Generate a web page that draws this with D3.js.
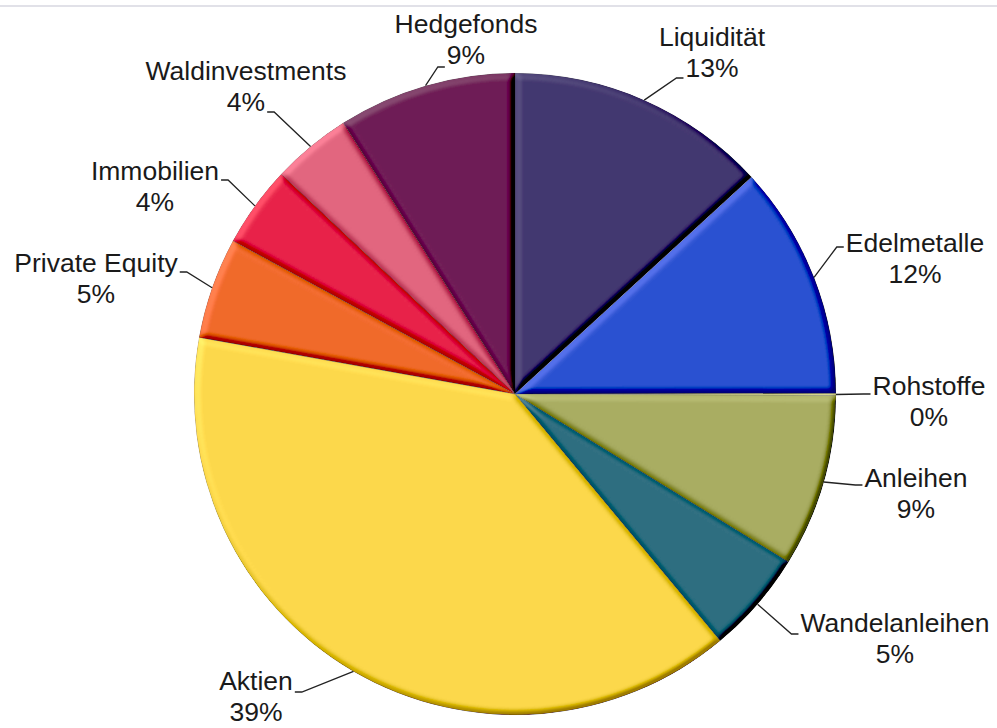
<!DOCTYPE html>
<html>
<head>
<meta charset="utf-8">
<script src="https://cdn.jsdelivr.net/npm/d3@7"></script>
<style>
  body { margin: 0; background: #fff; }
  svg { display: block; }
</style>
</head>
<body>
<div id="chart"></div>
<script>
// asset allocation, clockwise from 12 o'clock
let categories = ["Liquidität", "Edelmetalle", "Rohstoffe", "Anleihen", "Wandelanleihen",
                  "Aktien", "Private Equity", "Immobilien", "Waldinvestments", "Hedgefonds"];
let shares = [13.2, 11.8, 0.1, 8.7, 5.2, 38.9, 5.1, 4.1, 4.0, 9.0];
let colors = ["#433770", "#2b52d1", "#d9d98f", "#a9ad62", "#2d6e80",
              "#fdd94b", "#f16a2b", "#e8234a", "#e2667f", "#6f1a56"];

// where Excel put the label boxes (centre x, first baseline) and which line the leader meets
let labelLayout = {
    "Hedgefonds":      { x: 466, y: 33,  side: "right", line: 1, dy: 3 },
    "Liquidität":      { x: 712, y: 46,  side: "right", line: 1, dy: 1 },
    "Edelmetalle":     { x: 915, y: 252, side: "right", line: 0, dy: -5 },
    "Rohstoffe":       { x: 929, y: 395, side: "right", line: 0, dy: -1 },
    "Anleihen":        { x: 916, y: 487, side: "right", line: 0, dy: -2 },
    "Wandelanleihen":  { x: 895, y: 632, side: "right", line: 0, dy: 2 },
    "Aktien":          { x: 256, y: 690, side: "left",  line: 0, dy: 2 },
    "Private Equity":  { x: 96,  y: 272, side: "left",  line: 0, dy: 0 },
    "Immobilien":      { x: 155, y: 180, side: "left",  line: 0, dy: 0 },
    "Waldinvestments": { x: 246, y: 80,  side: "left",  line: 1, dy: 1 }
};

let width = 997, height = 728;
let center = { x: 515, y: 394 };
let radius = 321;
let lineGap = 31;

let data = categories.map((c, i) => ({ name: c, value: shares[i], color: colors[i] }));
let total = d3.sum(shares);
let pct = d => Math.round(d.value / total * 100) + "%";

let svg = d3.select("#chart").append("svg")
    .attr("width", width)
    .attr("height", height);

// thin grey frame line at the top of the screenshot
svg.append("line")
    .attr("x1", 0).attr("x2", width)
    .attr("y1", 6).attr("y2", 6)
    .style("stroke", "#e1e1e8")
    .style("stroke-width", 2);

// bevel: blurred alpha lit from upper left, blended onto the fill
let defs = svg.append("defs");
let bevel = defs.append("filter")
    .attr("id", "bevel")
    .attr("x", "-5%").attr("y", "-5%")
    .attr("width", "110%").attr("height", "110%");
bevel.append("feGaussianBlur")
    .attr("in", "SourceAlpha")
    .attr("stdDeviation", 3.4)
    .attr("result", "blur");
bevel.append("feDiffuseLighting")
    .attr("in", "blur")
    .attr("surfaceScale", 6)
    .attr("diffuseConstant", 1)
    .attr("lighting-color", "#fff")
    .attr("result", "light")
    .append("feDistantLight")
    .attr("azimuth", 225)
    .attr("elevation", 45);
bevel.append("feComposite")
    .attr("in", "SourceGraphic")
    .attr("in2", "light")
    .attr("operator", "arithmetic")
    .attr("k1", 0.7).attr("k2", 0.5).attr("k3", 0.2).attr("k4", -0.141)
    .attr("result", "lit");
bevel.append("feComposite")
    .attr("in", "lit")
    .attr("in2", "SourceAlpha")
    .attr("operator", "in");

let pie = d3.pie().sort(null).value(d => d.value);
let arcs = pie(data);
let arc = d3.arc().innerRadius(0).outerRadius(radius);

let g = svg.append("g")
    .attr("transform", "translate(" + center.x + "," + center.y + ")");

g.selectAll()
    .data(arcs)
    .enter()
    .append("path")
    .attr("d", arc)
    .style("fill", d => d.data.color)
    .style("stroke", "rgba(0,0,0,0.3)")
    .style("stroke-width", 0.6)
    .attr("filter", "url(#bevel)");

// labels
let labels = svg.selectAll()
    .data(arcs)
    .enter()
    .append("text")
    .attr("font-family", "'Liberation Sans', Arial, sans-serif")
    .attr("font-size", "26.5px")
    .attr("fill", "#1a1a1a")
    .attr("text-anchor", "middle");

labels.append("tspan")
    .attr("x", d => labelLayout[d.data.name].x)
    .attr("y", d => labelLayout[d.data.name].y)
    .text(d => d.data.name);
labels.append("tspan")
    .attr("x", d => labelLayout[d.data.name].x)
    .attr("y", d => labelLayout[d.data.name].y + lineGap)
    .text(pct);

// leader lines: from the rim at mid angle to the label, ending in a short horizontal tick
labels.each(function (d) {
    let lay = labelLayout[d.data.name];
    let tspan = d3.select(this).selectAll("tspan").nodes()[lay.line];
    let w = tspan.getComputedTextLength();
    let mid = (d.startAngle + d.endAngle) / 2;
    let sx = center.x + radius * Math.sin(mid);
    let sy = center.y - radius * Math.cos(mid);
    let ty = lay.y + lay.line * lineGap + lay.dy;
    let tx, ex;
    if (lay.side == "right") {
        tx = lay.x - w / 2 - 2;
        ex = tx - 7;
    } else {
        tx = lay.x + w / 2 + 2;
        ex = tx + 7;
    }
    svg.append("polyline")
        .attr("points", [[sx, sy], [ex, ty], [tx, ty]].map(p => p.join(",")).join(" "))
        .style("fill", "none")
        .style("stroke", "#222")
        .style("stroke-width", 1.3);
});
</script>
</body>
</html>
